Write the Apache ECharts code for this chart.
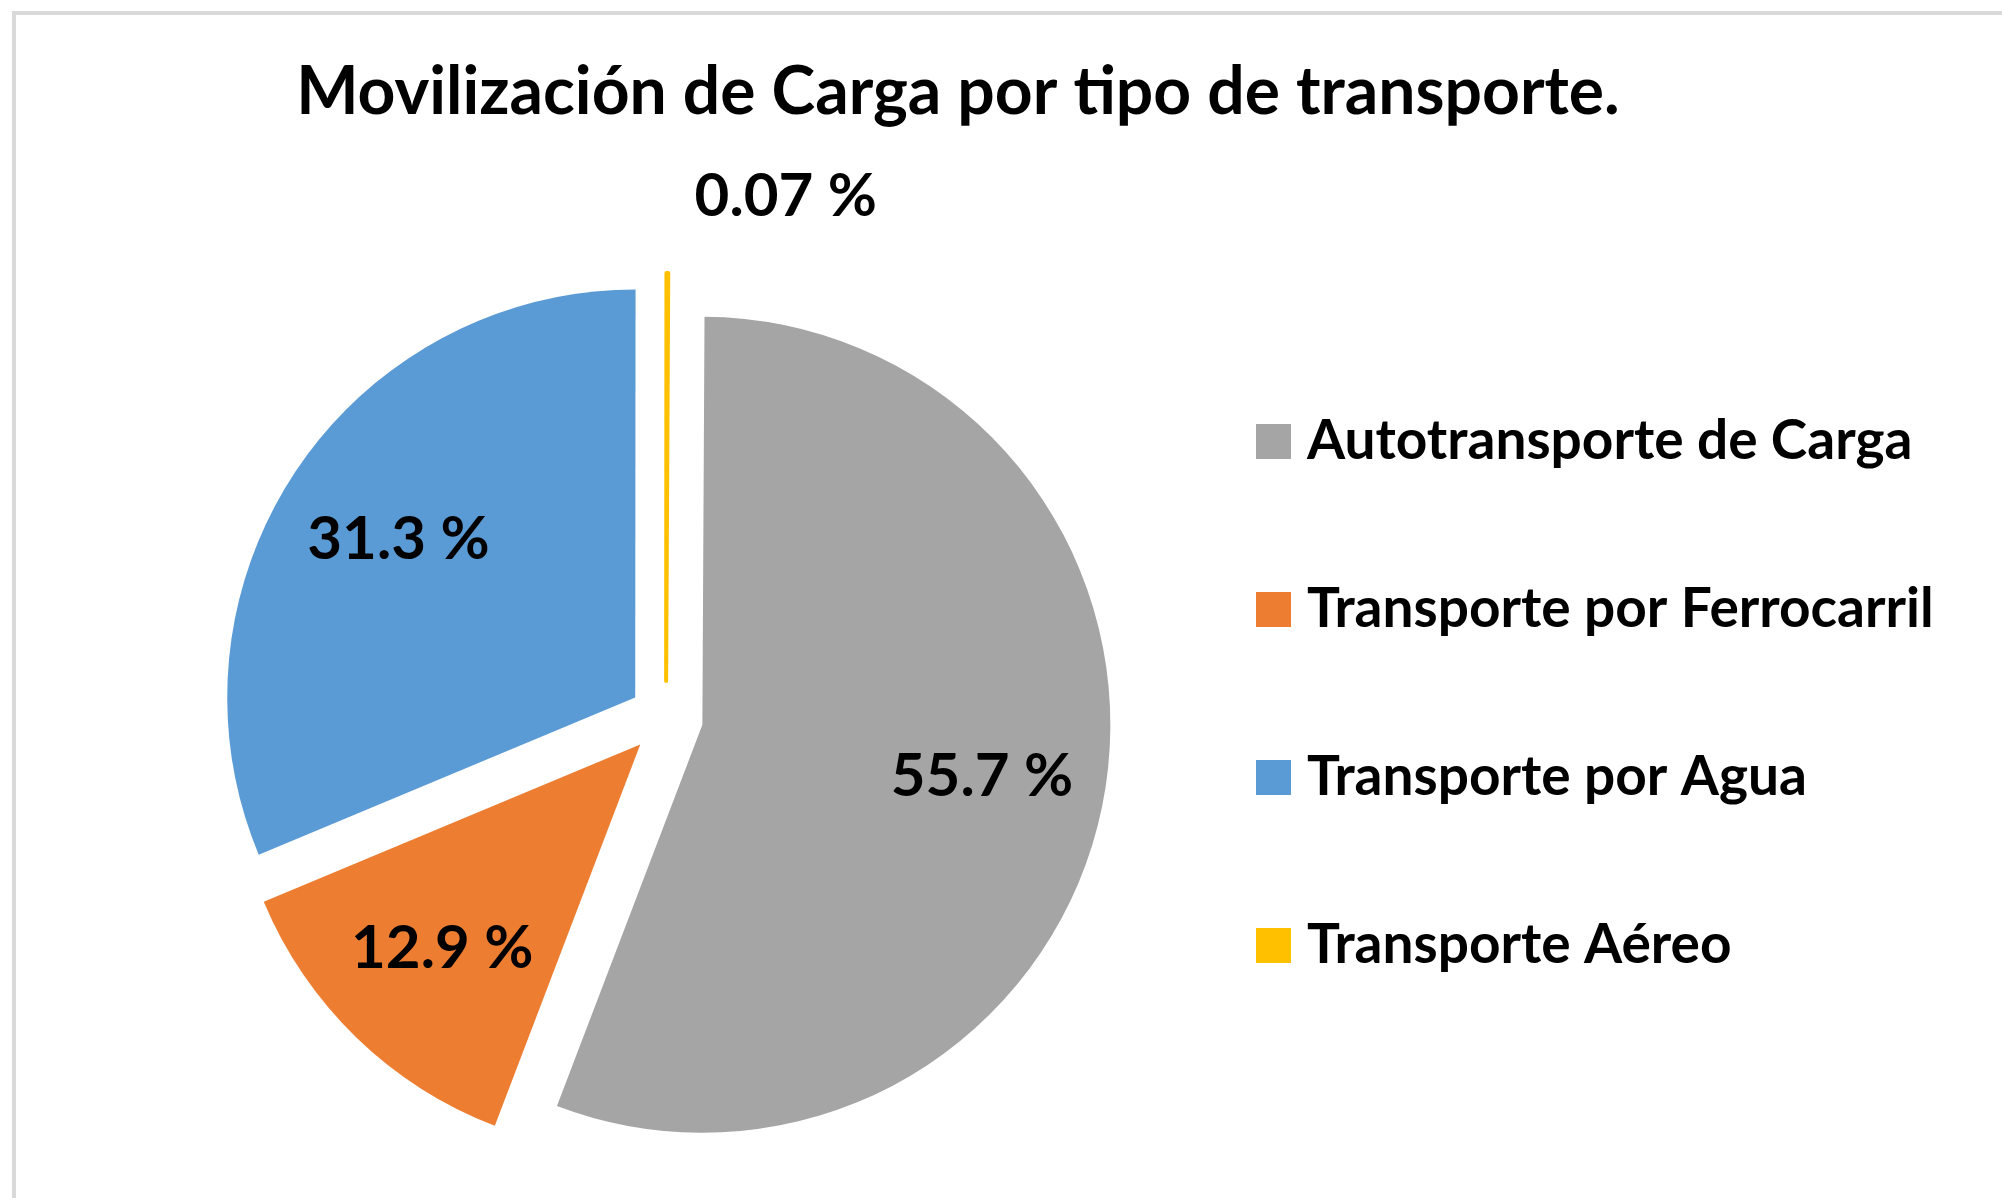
<!DOCTYPE html>
<html>
<head>
<meta charset="utf-8">
<title>Movilización de Carga por tipo de transporte</title>
<script src="https://cdn.jsdelivr.net/npm/echarts@6/dist/echarts.min.js"></script>
<style>
  html, body { margin: 0; padding: 0; background: #fff; }
  #frame {
    position: absolute; left: 12px; top: 11px; width: 2100px; height: 1300px;
    border-left: 4px solid #d9d9d9; border-top: 4px solid #d9d9d9;
  }
  #chart { position: absolute; left: 0; top: 0; width: 2002px; height: 1198px; }
</style>
</head>
<body>
<div id="frame"></div>
<div id="chart"></div>
<script>
const categories = [
  "Autotransporte de Carga",
  "Transporte por Ferrocarril",
  "Transporte por Agua",
  "Transporte Aéreo",
];
const shares = [55.7, 12.9, 31.3, 0.07];
const colors = ["#a5a5a5", "#ed7d31", "#5b9bd5", "#ffc000"];

const FONT = "Lato, 'Open Sans', sans-serif";
const chart = echarts.init(document.getElementById("chart"));

const labelText = {
  formatter: "{c} %",
  fontSize: 60,
  fontWeight: "bold",
  color: "#000",
  fontFamily: FONT,
};

// the thin air-freight slice gets its label outside, above the pie
const small = shares.length - 1;

const pieData = categories.map((name, i) => ({
  name: name,
  value: shares[i],
  selected: true,
  itemStyle:
    i === small
      ? { color: colors[i], borderColor: colors[i], borderWidth: 4 }
      : { color: colors[i] },
  label:
    i === small
      ? Object.assign({ show: true, position: "outside" }, labelText)
      : { show: false },
  labelLine: { show: false, length: 76, length2: 22 },
}));

// transparent ring on top, only to carry the inside labels further out
const labelData = categories.map((name, i) => ({
  name: name,
  value: shares[i],
  selected: true,
  label: { show: i !== small },
}));

const pieCommon = {
  type: "pie",
  center: [666, 718],
  startAngle: 89.7,
  selectedMode: "multiple",
  selectedOffset: 37,
  avoidLabelOverlap: false,
  animation: false,
  emphasis: { disabled: true },
};

const options = {
  animation: false,
  title: {
    text: "Movilización de Carga por tipo de transporte.",
    left: 958,
    top: 60,
    padding: 0,
    textAlign: "center",
    textStyle: {
      fontSize: 66,
      fontWeight: "bold",
      color: "#000",
      fontFamily: FONT,
    },
  },
  legend: {
    data: categories,
    orient: "vertical",
    left: 1256,
    top: 414,
    padding: 0,
    itemWidth: 35,
    itemHeight: 35,
    itemGap: 113,
    icon: "rect",
    selectedMode: false,
    itemStyle: { borderWidth: 0 },
    textStyle: {
      fontSize: 55,
      lineHeight: 55,
      fontWeight: "bold",
      color: "#000",
      fontFamily: FONT,
      padding: [0, 0, 0, 11],
    },
  },
  series: [
    Object.assign({}, pieCommon, {
      name: "Carga",
      radius: 408,
      data: pieData,
    }),
    Object.assign({}, pieCommon, {
      name: "Etiquetas",
      radius: [155, 408],
      silent: true,
      itemStyle: { color: "rgba(0,0,0,0)" },
      label: Object.assign({ position: "inside" }, labelText),
      labelLine: { show: false },
      data: labelData,
    }),
  ],
};

chart.setOption(options);
</script>
</body>
</html>
